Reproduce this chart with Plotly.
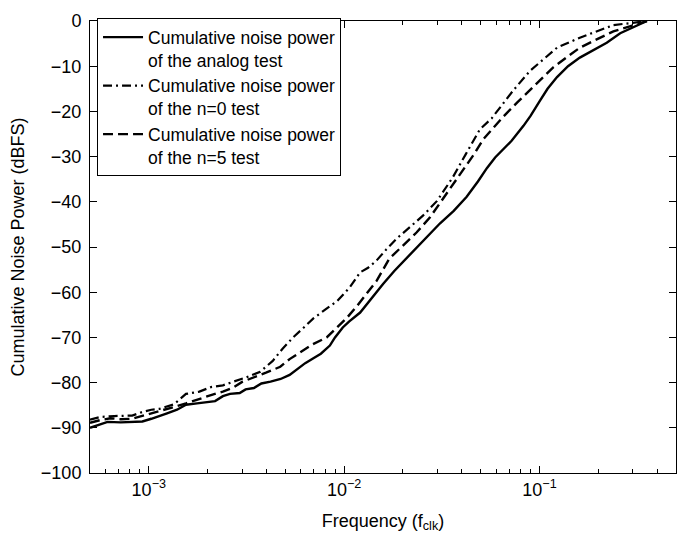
import plotly.graph_objects as go

# ---- data ----
f_analog = [5.0e-4, 5.63e-4, 6.15e-4, 7.18e-4, 8.22e-4, 9.27e-4, 1.03e-3, 1.135e-3, 1.24e-3, 1.395e-3,
            1.55e-3, 1.765e-3, 1.975e-3, 2.185e-3, 2.395e-3, 2.605e-3, 2.92e-3, 3.13e-3, 3.45e-3, 3.77e-3,
            4.2e-3, 4.73e-3, 5.26e-3, 5.79e-3, 6.32e-3, 6.96e-3, 7.6e-3, 8.45e-3, 8.98e-3, 9.84e-3,
            1.059e-2, 1.208e-2, 1.38e-2, 1.582e-2, 1.806e-2, 2.134e-2, 2.54e-2, 3.09e-2, 3.64e-2, 4.24e-2,
            4.84e-2, 5.39e-2, 5.93e-2, 6.55e-2, 7.2e-2, 8.28e-2, 9.0e-2, 0.101, 0.11, 0.123,
            0.14, 0.161, 0.19, 0.221, 0.259, 0.30, 0.355]
p_analog = [-90.0, -89.2, -88.7, -88.8, -88.7, -88.6, -88.0, -87.3, -86.8, -86.0,
            -84.9, -84.6, -84.3, -84.1, -83.0, -82.5, -82.3, -81.5, -81.2, -80.2,
            -79.8, -79.2, -78.3, -77.0, -75.7, -74.6, -73.6, -71.8, -70.0, -67.8,
            -66.5, -64.5, -61.3, -58.2, -55.3, -52.0, -48.6, -44.8, -42.0, -38.9,
            -35.5, -32.5, -30.2, -28.3, -26.5, -23.2, -21.0, -17.5, -15.0, -12.4,
            -10.0, -8.1, -6.4, -4.8, -2.7, -1.4, 0.0]

f_n0 = [5.0e-4, 5.63e-4, 6.66e-4, 8.22e-4, 9.27e-4, 1.03e-3, 1.135e-3, 1.345e-3, 1.55e-3, 1.815e-3,
        2.08e-3, 2.395e-3, 2.71e-3, 3.13e-3, 3.72e-3, 4.31e-3, 4.84e-3, 5.48e-3, 6.22e-3, 6.96e-3,
        8.03e-3, 9.2e-3, 1.07e-2, 1.208e-2, 1.326e-2, 1.465e-2, 1.647e-2, 1.862e-2, 2.185e-2, 2.54e-2,
        2.99e-2, 3.61e-2, 4.19e-2, 4.95e-2, 5.7e-2, 6.55e-2, 7.36e-2, 8.96e-2, 0.105, 0.123,
        0.161, 0.2, 0.239, 0.30, 0.355]
p_n0 = [-88.2, -87.6, -87.4, -87.3, -86.5, -86.0, -85.8, -84.8, -82.5, -82.0,
        -81.0, -80.6, -79.8, -78.9, -77.6, -75.2, -72.5, -70.0, -67.8, -65.8,
        -63.8, -62.0, -58.9, -55.6, -54.6, -53.0, -50.5, -48.1, -45.5, -43.0,
        -39.8, -34.5, -29.5, -24.0, -21.5, -18.2, -15.3, -11.0, -8.5, -5.9,
        -3.7, -2.2, -0.9, -0.4, 0.0]

f_n5 = [5.0e-4, 5.63e-4, 6.36e-4, 7.18e-4, 8.22e-4, 9.27e-4, 1.03e-3, 1.135e-3, 1.345e-3, 1.55e-3,
        1.87e-3, 2.14e-3, 2.395e-3, 2.71e-3, 3.02e-3, 3.43e-3, 3.98e-3, 4.71e-3, 5.26e-3, 5.95e-3,
        6.86e-3, 8.14e-3, 9.1e-3, 1.027e-2, 1.166e-2, 1.327e-2, 1.466e-2, 1.702e-2, 2.025e-2, 2.347e-2,
        2.745e-2, 3.32e-2, 3.91e-2, 4.62e-2, 5.17e-2, 6.55e-2, 7.7e-2, 8.96e-2, 0.118, 0.14,
        0.161, 0.2, 0.239, 0.29, 0.355]
p_n5 = [-88.9, -88.3, -87.9, -88.1, -88.0, -87.4, -86.9, -86.4, -85.4, -84.6,
        -83.4, -82.6, -82.0, -81.1, -79.8, -78.8, -77.8, -76.5, -74.8, -73.3,
        -71.6, -70.0, -68.0, -65.8, -63.0, -60.0, -57.5, -52.6, -49.5, -46.8,
        -43.5, -38.3, -33.8, -29.5, -26.1, -21.1, -18.0, -15.3, -10.2, -7.8,
        -5.9, -3.9, -2.3, -1.2, 0.0]

names = ["Cumulative noise power<br>of the analog test",
         "Cumulative noise power<br>of the n=0 test",
         "Cumulative noise power<br>of the n=5 test"]

x_range = [5e-4, 0.5]
y_ticks = [-100, -90, -80, -70, -60, -50, -40, -30, -20, -10, 0]
x_major = [1e-3, 1e-2, 1e-1]
x_major_text = ["10<sup>−3</sup>", "10<sup>−2</sup>", "10<sup>−1</sup>"]

FONT = "Liberation Sans, Arial, Helvetica, sans-serif"

fig = go.Figure()
fig.add_trace(go.Scatter(x=f_analog, y=p_analog, mode="lines", name=names[0],
                         line=dict(color="black", width=2.4)))
fig.add_trace(go.Scatter(x=f_n0, y=p_n0, mode="lines", name=names[1],
                         line=dict(color="black", width=2.2, dash="9px,4px,2px,4px")))
fig.add_trace(go.Scatter(x=f_n5, y=p_n5, mode="lines", name=names[2],
                         line=dict(color="black", width=2.4, dash="10px,5px")))

minor_vals = [m * 10.0 ** e for e in range(-4, 0) for m in range(2, 10)
              if x_range[0] <= m * 10.0 ** e <= x_range[1]]

# page body has an 8px margin: the figure is sized so the plot lands where the reference has it
fig.update_layout(
    width=682, height=532,
    margin=dict(l=82, r=14, t=3, b=67),
    paper_bgcolor="white", plot_bgcolor="white",
    font=dict(family=FONT, size=18, color="black"),
    showlegend=True,
    legend=dict(x=0.012, y=1.006, xanchor="left", yanchor="top",
                bordercolor="black", borderwidth=1, bgcolor="white",
                font=dict(size=17.5), valign="top", itemwidth=40,
                tracegroupgap=0),
)
fig.update_xaxes(
    type="log", range=[-3.30103, -0.30103],
    tickvals=x_major, ticktext=x_major_text,
    ticks="inside", ticklen=7, tickcolor="black", tickwidth=1,
    minor=dict(tickvals=minor_vals, ticks="inside", ticklen=4, tickcolor="black", showgrid=False),
    showline=True, linecolor="black", linewidth=1, mirror="ticks",
    showgrid=False, zeroline=False,
    tickfont=dict(size=18), ticklabeloverflow="allow",
    title=dict(text="Frequency (f<sub>clk</sub>)", font=dict(size=18), standoff=15),
)
fig.update_yaxes(
    range=[-100, 0], tickvals=y_ticks,
    ticks="inside", ticklen=7, tickcolor="black", tickwidth=1,
    showline=True, linecolor="black", linewidth=1, mirror="ticks",
    showgrid=False, zeroline=False,
    tickfont=dict(size=18), ticklabeloverflow="allow", ticklabelstandoff=4,
    title=dict(text="Cumulative Noise Power (dBFS)", font=dict(size=18), standoff=16),
)

fig.write_html("out.html")
